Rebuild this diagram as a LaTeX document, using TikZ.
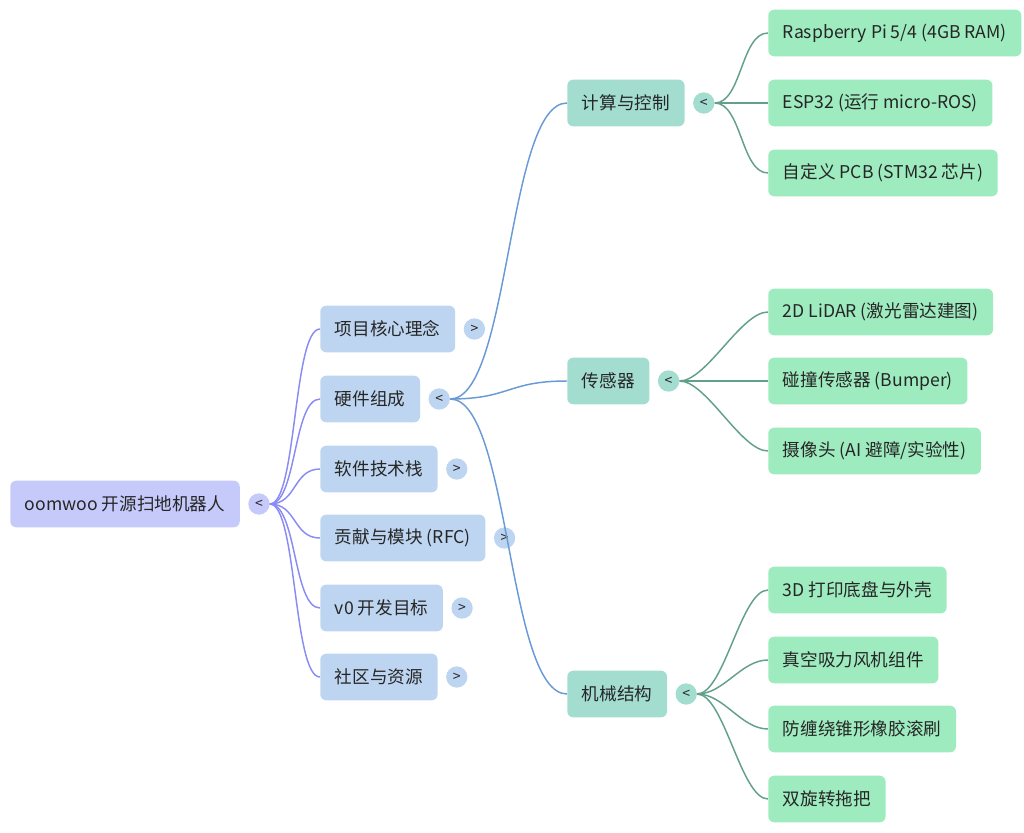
\documentclass[tikz,border=0pt]{standalone}
\usepackage{fontspec}
\setmainfont{Noto Sans CJK SC}
\usepackage{xcolor}
\usetikzlibrary{positioning}

\definecolor{rootfill}{HTML}{C6CAFA}
\definecolor{catfill}{HTML}{BDD5F0}
\definecolor{partfill}{HTML}{A3DDD0}
\definecolor{leaffill}{HTML}{9DEBBF}
\definecolor{rootline}{HTML}{8A8CF4}
\definecolor{catline}{HTML}{6A9AD6}
\definecolor{partline}{HTML}{62A08C}

\begin{document}
\begin{tikzpicture}[
    x=0.75pt, y=-0.75pt,
    node distance=6pt,
    mapnode/.style={rectangle, rounded corners=4.5pt, inner xsep=11pt, minimum height=35pt, anchor=west, text=black!85, font=\fontsize{13.2}{15}\selectfont},
    rootnode/.style={mapnode, fill=rootfill},
    catnode/.style={mapnode, fill=catfill},
    partnode/.style={mapnode, fill=partfill},
    leafnode/.style={mapnode, fill=leaffill},
    togglenode/.style={circle, minimum size=16pt, inner sep=0pt, text=black!85, font=\fontsize{10.5}{10}\selectfont},
    rootlink/.style={draw=rootline, line width=1.1pt},
    catlink/.style={draw=catline, line width=1.1pt},
    partlink/.style={draw=partline, line width=1.1pt}
]
\useasboundingbox (0,0) rectangle (1024,832);

% root
\node[rootnode] (root) at (10,504) {oomwoo 开源扫地机器人};
\node[togglenode, fill=rootfill, right=of root] (roottog) {<};

% first level
\node[catnode] (idea) at (320,329) {项目核心理念};
\node[catnode] (hardware) at (320,399) {硬件组成};
\node[catnode] (software) at (320,469) {软件技术栈};
\node[catnode] (rfc) at (320,538) {贡献与模块 (RFC)};
\node[catnode] (goal) at (320,608) {v0 开发目标};
\node[catnode] (community) at (320,677) {社区与资源};

\node[togglenode, fill=catfill, right=of idea] (ideatog) {>};
\node[togglenode, fill=catfill, right=of hardware] (hardwaretog) {<};
\node[togglenode, fill=catfill, right=of software] (softwaretog) {>};
\node[togglenode, fill=catfill, right=of rfc] (rfctog) {>};
\node[togglenode, fill=catfill, right=of goal] (goaltog) {>};
\node[togglenode, fill=catfill, right=of community] (communitytog) {>};

% hardware parts
\node[partnode] (compute) at (567,103) {计算与控制};
\node[partnode] (sensor) at (567,381) {传感器};
\node[partnode] (mech) at (567,694) {机械结构};

\node[togglenode, fill=partfill, right=of compute] (computetog) {<};
\node[togglenode, fill=partfill, right=of sensor] (sensortog) {<};
\node[togglenode, fill=partfill, right=of mech] (mechtog) {<};

% leaves
\node[leafnode] (rpi) at (768,33) {Raspberry Pi 5/4 (4GB RAM)};
\node[leafnode] (esp) at (768,103) {ESP32 (运行 micro-ROS)};
\node[leafnode] (pcb) at (768,173) {自定义 PCB (STM32 芯片)};
\node[leafnode] (lidar) at (768,312) {2D LiDAR (激光雷达建图)};
\node[leafnode] (bumper) at (768,381) {碰撞传感器 (Bumper)};
\node[leafnode] (camera) at (768,451) {摄像头 (AI 避障/实验性)};
\node[leafnode] (chassis) at (768,590) {3D 打印底盘与外壳};
\node[leafnode] (fan) at (768,660) {真空吸力风机组件};
\node[leafnode] (brush) at (768,729) {防缠绕锥形橡胶滚刷};
\node[leafnode] (mop) at (768,799) {双旋转拖把};

% links
\draw[rootlink] (roottog.east) .. controls +(27,0) and +(-27,0) .. (idea.west);
\draw[rootlink] (roottog.east) .. controls +(27,0) and +(-27,0) .. (hardware.west);
\draw[rootlink] (roottog.east) .. controls +(27,0) and +(-27,0) .. (software.west);
\draw[rootlink] (roottog.east) .. controls +(27,0) and +(-27,0) .. (rfc.west);
\draw[rootlink] (roottog.east) .. controls +(27,0) and +(-27,0) .. (goal.west);
\draw[rootlink] (roottog.east) .. controls +(27,0) and +(-27,0) .. (community.west);

\draw[catlink] (hardwaretog.east) .. controls +(60,0) and +(-60,0) .. (compute.west);
\draw[catlink] (hardwaretog.east) .. controls +(60,0) and +(-60,0) .. (sensor.west);
\draw[catlink] (hardwaretog.east) .. controls +(60,0) and +(-60,0) .. (mech.west);

\draw[partlink] (computetog.east) .. controls +(27,0) and +(-27,0) .. (rpi.west);
\draw[partlink] (computetog.east) .. controls +(27,0) and +(-27,0) .. (esp.west);
\draw[partlink] (computetog.east) .. controls +(27,0) and +(-27,0) .. (pcb.west);
\draw[partlink] (sensortog.east) .. controls +(27,0) and +(-27,0) .. (lidar.west);
\draw[partlink] (sensortog.east) .. controls +(27,0) and +(-27,0) .. (bumper.west);
\draw[partlink] (sensortog.east) .. controls +(27,0) and +(-27,0) .. (camera.west);
\draw[partlink] (mechtog.east) .. controls +(27,0) and +(-27,0) .. (chassis.west);
\draw[partlink] (mechtog.east) .. controls +(27,0) and +(-27,0) .. (fan.west);
\draw[partlink] (mechtog.east) .. controls +(27,0) and +(-27,0) .. (brush.west);
\draw[partlink] (mechtog.east) .. controls +(27,0) and +(-27,0) .. (mop.west);
\end{tikzpicture}
\end{document}
